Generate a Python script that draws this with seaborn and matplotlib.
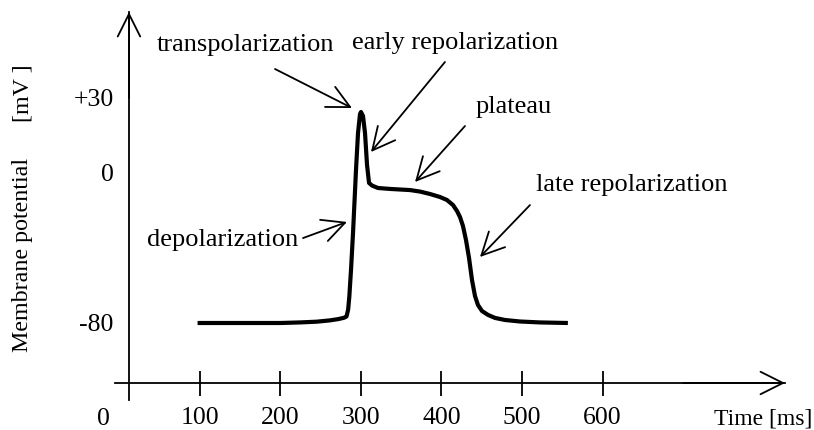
"""Cardiac action potential schematic."""

import numpy as np
import matplotlib
matplotlib.use("Agg")
import matplotlib.pyplot as plt
import seaborn as sns

# Curve (time in ms, potential in mV)
time_ms = [97, 162, 200, 224, 245, 261.5, 272, 279, 282, 284, 285.5,
           287.6, 290.1, 293.8, 296.3, 298.8, 300, 302.5, 305, 307.5, 310,
           313.7, 321.1, 336, 360.9, 373.3, 385.7, 398.1, 406.8, 414.3,
           419.3, 423, 426.7, 430.4, 434.2, 437.9, 441.6, 445.3, 450.3,
           457.8, 466.5, 478.9, 497.5, 522.4, 557]
potential_mv = [-80, -80, -80, -79.7, -79.3, -78.6, -77.9, -77.2, -76.5,
                -73, -66, -51.7, -32, 1.2, 16, 23.6, 24.4, 22.8, 16, 3.2,
                -5.3, -6.7, -8, -8.5, -9.1, -9.9, -11.2, -12.8, -14.4,
                -17.1, -20.3, -23.5, -28.3, -35.7, -45.3, -57.1, -65.6,
                -70.4, -73.6, -75.7, -77.3, -78.4, -79.2, -79.7, -80]

x_ticks = [100, 200, 300, 400, 500, 600]
y_ticks = [-80, 0, 30]
y_tick_labels = ["-80", "0", "+30"]

phase_labels = ["transpolarization", "early repolarization", "plateau",
                "late repolarization", "depolarization"]

sns.set_style("white")
plt.rcParams["font.family"] = ["Liberation Serif", "DejaVu Serif"]
plt.rcParams["text.color"] = "black"
plt.rcParams["xtick.color"] = "black"
plt.rcParams["ytick.color"] = "black"


def _fwd(y):
    y = np.asarray(y, dtype=float)
    return np.where(y > 0, y * 4.0 / 3.0, y)


def _inv(s):
    s = np.asarray(s, dtype=float)
    return np.where(s > 0, s * 0.75, s)


fig = plt.figure(figsize=(8.14, 4.30), dpi=100)
ax = fig.add_axes([0, 0, 1, 1])
ax.set_yscale("function", functions=(_fwd, _inv))

sns.lineplot(x=time_ms, y=potential_mv, ax=ax, color="black", linewidth=3.0,
             estimator=None, sort=False, solid_joinstyle="round",
             solid_capstyle="butt")

ax.set_xlim(-148.4, 862.7)
ax.set_ylim(-137.07, 69.2)

# axes drawn as arrows through the origin area
for side in ["top", "right"]:
    ax.spines[side].set_visible(False)
ax.spines["left"].set_position(("data", 11.8))
ax.spines["left"].set_bounds(-121.1, 64.4)
ax.spines["bottom"].set_position(("data", -112))
ax.spines["bottom"].set_bounds(-5.6, 826.7)
for side in ["left", "bottom"]:
    ax.spines[side].set_color("black")
    ax.spines[side].set_linewidth(1.3)

head = "->,head_length=0.6,head_width=0.3"
axis_arrow = dict(arrowstyle=head, color="black", lw=1.3, mutation_scale=27,
                  shrinkA=0, shrinkB=0)
ax.annotate("", xy=(11.8, 64.4), xytext=(11.8, 30), arrowprops=axis_arrow)
ax.annotate("", xy=(826.7, -112), xytext=(700, -112), arrowprops=axis_arrow)

ax.set_xticks(x_ticks)
ax.set_xticklabels([str(v) for v in x_ticks])
ax.set_yticks(y_ticks)
ax.set_yticklabels(y_tick_labels)
ax.minorticks_off()
ax.tick_params(axis="x", bottom=True, direction="inout", length=18,
               width=1.3, labelsize=18.5, pad=8.5, colors="black")
ax.tick_params(axis="y", left=True, length=0, labelsize=18.5, pad=11,
               colors="black")
ax.grid(False)

ax.text(-20.5, -131.3, "0", fontsize=18.5, ha="center", va="center")
ax.text(799.4, -131.3, "Time [ms]", fontsize=17, ha="center", va="center")
ax.text(-119.9, -43.7, "Membrane potential", fontsize=17.3, rotation=90,
        ha="center", va="center")
ax.text(-119.9, 32, "[mV ]", fontsize=17.3, rotation=90,
        ha="center", va="center")

# phase annotations: label centre, arrow tail, arrow tip
label_pos = [(155.9, 51.2), (416.8, 52), (489.4, 26.4), (636, -6.4), (128, -35.7)]
tails = [(193.2, 41.6), (404.3, 44.4), (429.2, 18.8), (509.9, -17.1), (228, -34.7)]
tips = [(288.8, 26), (312.4, 8.4), (367.1, -4.8), (447.8, -44.8), (282.6, -26.1)]

note_arrow = dict(arrowstyle=head, color="black", lw=1.3, mutation_scale=27,
                  shrinkA=0, shrinkB=0)
for name, pos, tail, tip in zip(phase_labels, label_pos, tails, tips):
    ax.text(pos[0], pos[1], name, fontsize=19, ha="center", va="center")
    ax.annotate("", xy=tip, xytext=tail, arrowprops=note_arrow)

fig.savefig("out.png", dpi=100, facecolor="white")
